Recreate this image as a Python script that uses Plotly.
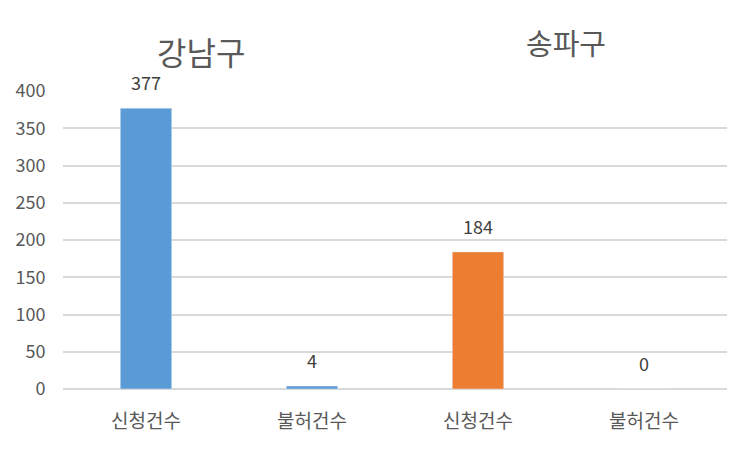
import plotly.graph_objects as go

categories = ["신청건수", "불허건수", "신청건수", "불허건수"]
gangnam_values = [377, 4]
songpa_values = [184, 0]
groups = ["강남구", "송파구"]

x_all = list(range(len(categories)))
gray = "#595959"
font = "Noto Sans CJK KR"

fig = go.Figure()
fig.add_trace(go.Bar(x=x_all[:2], y=gangnam_values, name=groups[0],
                     marker_color="#5B9BD5", width=0.31))
fig.add_trace(go.Bar(x=x_all[2:], y=songpa_values, name=groups[1],
                     marker_color="#ED7D31", width=0.31))

# data labels above bars
for xv, yv in zip(x_all, gangnam_values + songpa_values):
    fig.add_annotation(x=xv, y=yv, text=str(yv), showarrow=False,
                       yanchor="bottom", yshift=11,
                       font=dict(size=18, color="#404040", family=font))

# group titles
fig.add_annotation(x=0.33, y=1.0, xref="x", yref="paper", text=groups[0],
                   showarrow=False, yanchor="bottom", yshift=15,
                   font=dict(size=32, color=gray, family=font))
fig.add_annotation(x=2.53, y=1.0, xref="x", yref="paper", text=groups[1],
                   showarrow=False, yanchor="bottom", yshift=26,
                   font=dict(size=29, color=gray, family=font))

# page body has an 8px margin, so the figure is a bit smaller than the window
fig.update_layout(
    width=742, height=441,
    margin=dict(l=55, r=23, t=83, b=60),
    plot_bgcolor="white", paper_bgcolor="white",
    barmode="overlay", showlegend=False,
    font=dict(family=font, color=gray, size=16),
)
fig.update_xaxes(range=[-0.5, 3.5], tickvals=x_all, ticktext=categories,
                 showgrid=False, zeroline=False, automargin=False,
                 ticks="outside", ticklen=15, tickcolor="rgba(0,0,0,0)",
                 tickfont=dict(size=19, color=gray))
fig.update_yaxes(range=[0, 400], dtick=50, showgrid=True, automargin=False,
                 gridcolor="#D9D9D9", gridwidth=1.5,
                 zeroline=True, zerolinecolor="#D9D9D9", zerolinewidth=1.5,
                 ticks="outside", ticklen=13, tickcolor="rgba(0,0,0,0)",
                 tickfont=dict(size=18, color=gray))

fig.write_html("out.html")
